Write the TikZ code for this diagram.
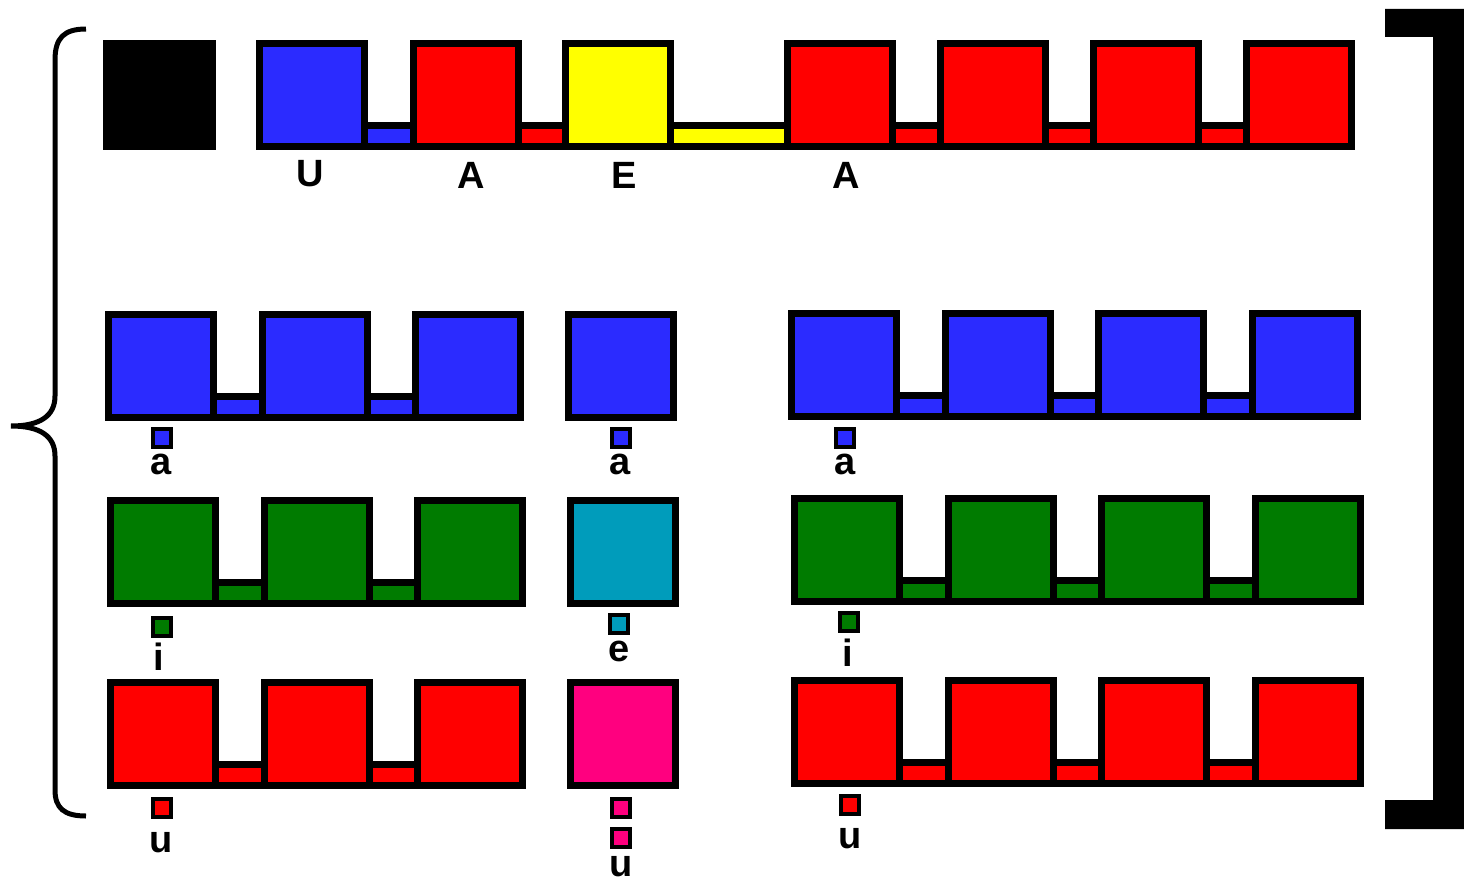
\documentclass[tikz,border=0pt]{standalone}
\usepackage{fontspec}
\setmainfont{Liberation Sans}
\usetikzlibrary{positioning}

\definecolor{vblue}{HTML}{2B2BFF}
\definecolor{vred}{HTML}{FF0000}
\definecolor{vyellow}{HTML}{FFFF00}
\definecolor{vgreen}{HTML}{007B00}
\definecolor{vteal}{HTML}{009CBB}
\definecolor{vpink}{HTML}{FF007F}

% one row of cells joined by low links: x, y, count, colour
\newcommand{\cellrow}[4]{%
  \foreach \k in {2,...,#3}
    \draw[link, fill=#4] ({#1+(\k-2)*153.5+108.5},{#2+85.5}) rectangle ({#1+(\k-1)*153.5+3.5},{#2+106.5});
  \foreach \k in {1,...,#3}
    \draw[cell, fill=#4] ({#1+(\k-1)*153.5+3.5},{#2+3.5}) rectangle ({#1+(\k-1)*153.5+108.5},{#2+106.5});
}

\begin{document}
\begin{tikzpicture}[
        x=1pt, y=-1pt,
        cell/.style={draw=black, line width=7pt},
        link/.style={draw=black, line width=7pt},
        chip/.style={draw=black, line width=4pt, minimum size=18pt, inner sep=0pt},
        lab/.style={font=\fontsize{38}{40}\selectfont\bfseries, inner sep=0pt, anchor=base}
    ]
    \useasboundingbox (0,0) rectangle (1464,883);

    % Brace on the left
    \draw[line width=5pt] (86,29) .. controls (64,29) and (55,38) .. (55,60) -- (55,396)
        .. controls (55,416) and (40,426) .. (11,426)
        .. controls (40,426) and (55,436) .. (55,456) -- (55,790)
        .. controls (55,808) and (64,816) .. (86,816);

    % Bracket on the right
    \fill[black] (1385,9) -- (1464,9) -- (1464,829) -- (1385,829) -- (1385,800)
        -- (1433,800) -- (1433,37) -- (1385,37) -- cycle;

    % Top row
    \draw[cell, fill=black] (106.5,43.5) rectangle (212.5,146.5);
    \draw[link, fill=vblue] (364.5,125.5) rectangle (413.5,146.5);
    \draw[link, fill=vred] (518.5,125.5) rectangle (565.5,146.5);
    \draw[link, fill=vyellow] (670.5,125.5) rectangle (787.5,146.5);
    \draw[link, fill=vred] (892.5,125.5) rectangle (940.5,146.5);
    \draw[link, fill=vred] (1045.5,125.5) rectangle (1093.5,146.5);
    \draw[link, fill=vred] (1198.5,125.5) rectangle (1246.5,146.5);
    \draw[cell, fill=vblue] (259.5,43.5) rectangle (364.5,146.5);
    \draw[cell, fill=vred] (413.5,43.5) rectangle (518.5,146.5);
    \draw[cell, fill=vyellow] (565.5,43.5) rectangle (670.5,146.5);
    \foreach \x in {787.5,940.5,1093.5,1246.5}
        \draw[cell, fill=vred] (\x,43.5) rectangle ({\x+105},146.5);
    \node[lab] (uU) at (310,186) {U};
    \node[lab] (uA) at (471,188) {A};
    \node[lab] (uE) at (624,188) {E};
    \node[lab] (uA2) at (846,188) {A};

    % Rows of a
    \cellrow{105}{311}{3}{vblue}
    \draw[cell, fill=vblue] (568.5,314.5) rectangle (673.5,417.5);
    \cellrow{788}{310}{4}{vblue}
    \node[chip, fill=vblue] (ma1) at (161.5,437.5) {};
    \node[chip, fill=vblue] (ma2) at (620.5,438) {};
    \node[chip, fill=vblue] (ma3) at (844.5,438) {};
    \node[lab] (la1) at (161,474) {a};
    \node[lab] (la2) at (620,474) {a};
    \node[lab] (la3) at (845,474) {a};

    % Rows of i / e
    \cellrow{107}{497}{3}{vgreen}
    \draw[cell, fill=vteal] (570.5,500.5) rectangle (675.5,603.5);
    \cellrow{791}{495}{4}{vgreen}
    \node[chip, fill=vgreen] (mi1) at (161.5,626.5) {};
    \node[chip, fill=vteal] (me2) at (618.5,624) {};
    \node[chip, fill=vgreen] (mi3) at (849,622) {};
    \node[lab] (li1) at (159,670) {i};
    \node[lab] (le2) at (619,661) {e};
    \node[lab] (li3) at (848,666) {i};

    % Rows of u
    \cellrow{107}{679}{3}{vred}
    \draw[cell, fill=vpink] (570.5,682.5) rectangle (675.5,785.5);
    \cellrow{791}{677}{4}{vred}
    \node[chip, fill=vred] (mu1) at (161.5,807.5) {};
    \node[chip, fill=vpink] (mu2) at (620.5,807.5) {};
    \node[chip, fill=vpink] (mu2b) at (620.5,838) {};
    \node[chip, fill=vred] (mu3) at (849.5,805) {};
    \node[lab] (lu1) at (161,852) {u};
    \node[lab] (lu2) at (621,876) {u};
    \node[lab] (lu3) at (850,848) {u};
\end{tikzpicture}
\end{document}
